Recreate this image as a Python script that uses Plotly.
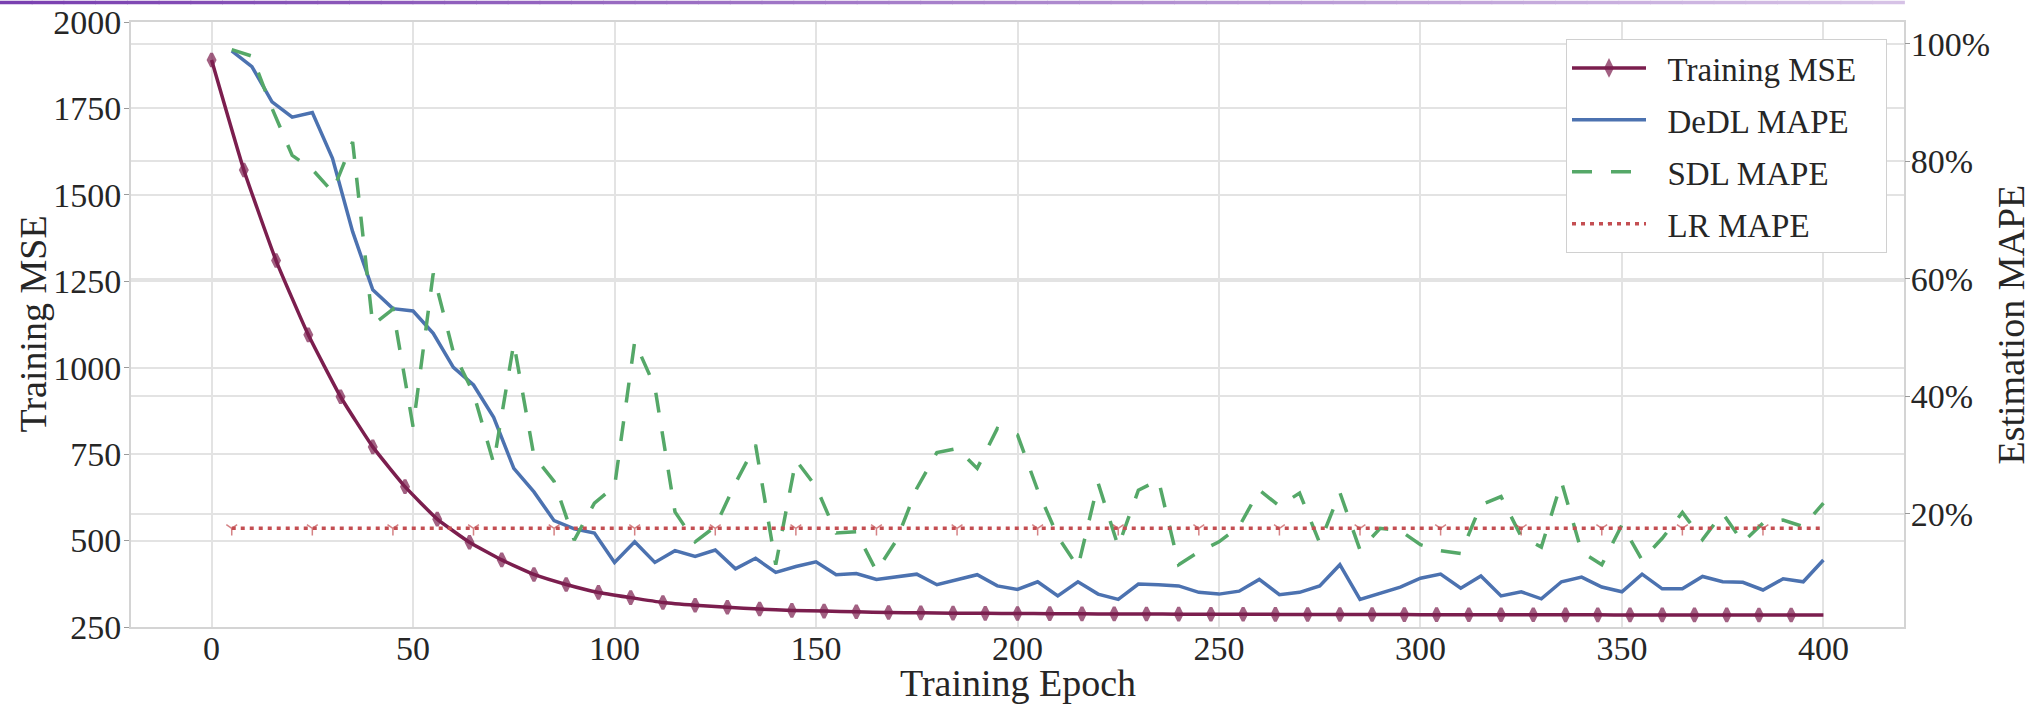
import plotly.graph_objects as go

# ---------------- data ----------------
mse_epochs = list(range(0, 393, 8)) + [400]
mse_values = [1890, 1572, 1310, 1095, 916, 771, 656, 562, 495, 444,
              402, 373, 350, 335, 321, 313, 307, 302, 298, 296,
              294, 292, 291, 290, 289.5, 289, 288.5, 288, 287.8, 287.5,
              287.2, 287, 286.8, 286.5, 286.3, 286.1, 286, 285.8, 285.6, 285.5,
              285.4, 285.3, 285.2, 285.1, 285, 285, 284.9, 284.9, 284.8, 284.8,
              284.7]

mape_epochs = list(range(5, 401, 5))
dedl_mape = [98.8, 96.1, 90.1, 87.5, 88.3, 80.5, 68.0, 58.1, 54.9, 54.5,
             50.7, 44.9, 41.9, 36.4, 27.7, 23.7, 18.8, 17.4, 16.7, 11.7,
             15.2, 11.7, 13.7, 12.7, 13.8, 10.6, 12.4, 10.0, 11.0, 11.8,
             9.6, 9.8, 8.8, 9.2, 9.7, 7.9, 8.7, 9.6, 7.7, 7.1,
             8.4, 6.0, 8.4, 6.3, 5.4, 8.0, 7.9, 7.7, 6.6, 6.3,
             6.8, 8.8, 6.2, 6.6, 7.7, 11.3, 5.4, 6.4, 7.5, 9.0,
             9.7, 7.3, 9.4, 6.0, 6.7, 5.5, 8.4, 9.2, 7.5, 6.7,
             9.7, 7.2, 7.2, 9.3, 8.4, 8.3, 7.0, 8.9, 8.4, 12.1]
sdl_mape = [99.0, 97.9, 89.0, 81.0, 78.6, 74.8, 83.3, 52.1, 54.8, 34.8,
            60.9, 47.5, 40.5, 28.6, 49.0, 29.8, 25.5, 15.5, 21.8, 24.6,
            49.3, 41.6, 20.3, 15.2, 17.8, 25.2, 31.7, 11.3, 29.1, 24.6,
            16.7, 16.9, 10.2, 15.5, 24.3, 30.4, 31.1, 27.7, 34.5, 33.4,
            24.0, 16.1, 10.9, 25.2, 14.4, 24.0, 25.7, 11.3, 13.5, 15.2,
            17.8, 24.0, 21.3, 23.5, 15.0, 23.6, 13.8, 17.5, 17.1, 14.7,
            13.7, 13.2, 21.5, 22.9, 16.1, 14.3, 25.4, 13.5, 11.3, 18.1,
            12.1, 15.8, 20.2, 15.6, 20.1, 15.1, 18.4, 18.9, 17.8, 21.8]
lr_mape = 17.5

x_ticks = [0, 50, 100, 150, 200, 250, 300, 350, 400]
y_ticks = [250, 500, 750, 1000, 1250, 1500, 1750, 2000]
y2_ticks = [20, 40, 60, 80, 100]
y2_ticktext = ["20%", "40%", "60%", "80%", "100%"]

# ---------------- style ----------------
FONT = "Liberation Serif, Times New Roman, serif"
TXT = "#262626"
GRID = "#e3e3e3"
SPINE = "#d4d4d4"
C_MSE = "#7b1e4e"
C_DEDL = "#4c72b0"
C_SDL = "#55a868"
C_LR = "#c44e52"
PAD = "\u00a0\u00a0"
W, H = 2044, 704
L, R, T, B = 131, 140, 22, 77
PW = W - L - R
PH = H - T - B

fig = go.Figure()

fig.add_trace(go.Scatter(
    x=mse_epochs, y=mse_values, name=PAD + "Training MSE\u00a0\u00a0\u00a0",
    mode="lines+markers", legendgroup="a",
    line=dict(color=C_MSE, width=3.5, shape="spline", smoothing=0.4),
    marker=dict(symbol="diamond-tall", color=C_MSE,
                size=[9.5] * (len(mse_epochs) - 1) + [0],
                line=dict(color=C_MSE, width=3)),
    yaxis="y"))

fig.add_trace(go.Scatter(
    x=mape_epochs, y=dedl_mape, name=PAD + "DeDL MAPE", mode="lines",
    legendgroup="b",
    line=dict(color=C_DEDL, width=3.5), yaxis="y2"))

fig.add_trace(go.Scatter(
    x=mape_epochs, y=sdl_mape, name=PAD + "SDL MAPE", mode="lines",
    legendgroup="c",
    line=dict(color=C_SDL, width=3.5, dash="20px,19px"), yaxis="y2"))

fig.add_trace(go.Scatter(
    x=mape_epochs, y=[lr_mape] * len(mape_epochs), name=PAD + "LR MAPE",
    mode="lines+markers", legendgroup="d",
    line=dict(color=C_LR, width=3.5, dash="4px,5px"),
    marker=dict(symbol="y-down", color=C_LR,
                size=[9 if i % 4 == 0 else 0 for i in range(len(mape_epochs))],
                line=dict(color=C_LR, width=1.5)),
    yaxis="y2"))

# decorative gradient rule along the top
n_seg = 60
x0p = -L / PW
y_rule = 1 + (T - 2.5) / PH
c0 = (122, 64, 176)
c1 = (214, 194, 230)
shapes = []
for i in range(n_seg):
    t = i / (n_seg - 1)
    col = "rgb(%d,%d,%d)" % tuple(round(c0[k] + (c1[k] - c0[k]) * t) for k in range(3))
    xa = x0p + (1 - x0p) * i / n_seg
    xb = x0p + (1 - x0p) * (i + 1) / n_seg
    shapes.append(dict(type="line", xref="paper", yref="paper",
                       x0=xa, x1=xb + 0.0005, y0=y_rule, y1=y_rule,
                       line=dict(color=col, width=3.5)))

annotations = [
    dict(text="Training Epoch", xref="paper", yref="paper",
         x=0.5, y=-(683 - (T + PH)) / PH,
         xanchor="center", yanchor="middle", showarrow=False,
         font=dict(size=38, family=FONT, color=TXT)),
    dict(text="Training MSE", xref="paper", yref="paper",
         x=(32 - L) / PW, y=0.5, textangle=-90,
         xanchor="center", yanchor="middle", showarrow=False,
         font=dict(size=38, family=FONT, color=TXT)),
    dict(text="Estimation MAPE", xref="paper", yref="paper",
         x=(2010 - L) / PW, y=0.5, textangle=-90,
         xanchor="center", yanchor="middle", showarrow=False,
         font=dict(size=38, family=FONT, color=TXT)),
]

fig.update_layout(
    width=W, height=H,
    margin=dict(l=L, r=R, t=T, b=B),
    paper_bgcolor="white", plot_bgcolor="white",
    font=dict(family=FONT, color=TXT, size=34),
    shapes=shapes,
    annotations=annotations,
    showlegend=True,
    legend=dict(x=(1887 - L) / PW, y=1 - (39 - T) / PH,
                xanchor="right", yanchor="top",
                bgcolor="white", bordercolor="#d0d0d0", borderwidth=1,
                font=dict(family=FONT, size=33, color=TXT),
                itemwidth=74, tracegroupgap=6),
    xaxis=dict(range=[-20, 420], tickvals=x_ticks, showgrid=True,
               gridcolor=GRID, gridwidth=1.5, zeroline=False, automargin=False,
               showline=True, mirror=True, linecolor=SPINE, linewidth=2,
               ticks="", tickfont=dict(size=34), ticklabelstandoff=-10),
    yaxis=dict(range=[250, 2000], tickvals=y_ticks, showgrid=True,
               gridcolor=GRID, gridwidth=1.5, zeroline=False, automargin=False,
               showline=True, mirror=True, linecolor=SPINE, linewidth=2,
               ticks="outside", ticklen=5, tickcolor="#9a9a9a", tickwidth=1,
               tickfont=dict(size=34), ticklabelstandoff=-4),
    yaxis2=dict(range=[0.7, 103.7], tickvals=y2_ticks, ticktext=y2_ticktext,
                overlaying="y", side="right", showgrid=True, automargin=False,
                gridcolor=GRID, gridwidth=1.5, zeroline=False,
                showline=False,
                ticks="outside", ticklen=5, tickcolor="#9a9a9a", tickwidth=1,
                tickfont=dict(size=34), ticklabelstandoff=-6),
)

fig.write_html("out.html",
               config={"displayModeBar": False},
               post_script="document.body.style.margin='0';document.body.style.padding='0';")
